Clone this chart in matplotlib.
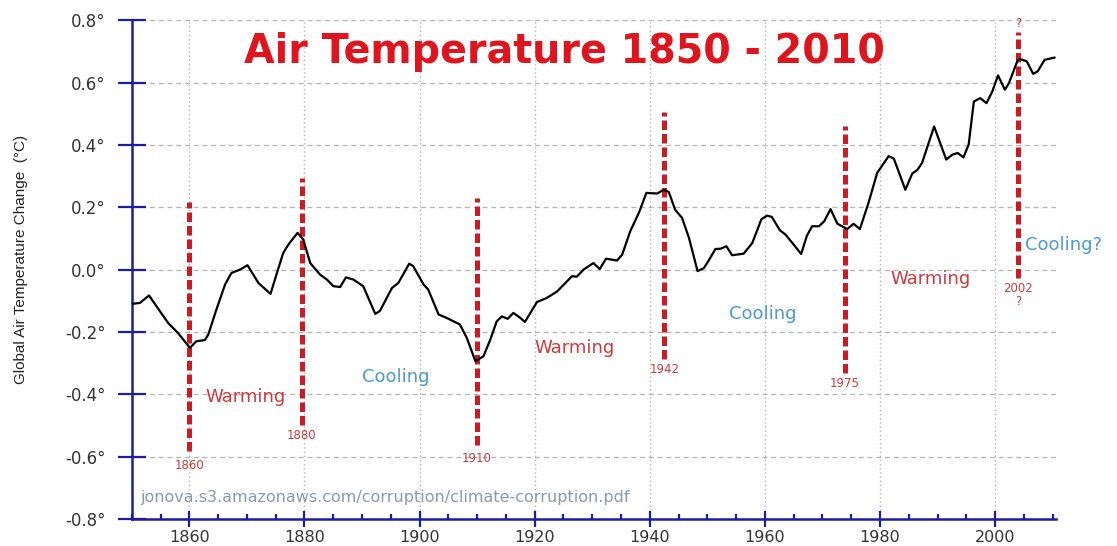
import matplotlib
matplotlib.use("Agg")
import matplotlib.pyplot as plt
from matplotlib.ticker import MultipleLocator, FuncFormatter

# ---- data ----
years = [1850.0, 1851.4, 1853.0, 1854.3, 1856.3, 1858.0, 1860.1, 1861.2, 1862.7, 1863.3,
         1864.7, 1866.2, 1867.3, 1868.8, 1870.1, 1872.0, 1874.1, 1875.4, 1876.3, 1877.2,
         1878.8, 1879.8, 1881.0, 1882.7, 1883.9, 1885.0, 1886.2, 1887.2, 1888.5, 1890.2,
         1892.3, 1893.1, 1895.2, 1896.3, 1898.2, 1898.9, 1900.7, 1901.5, 1903.3, 1904.7,
         1907.0, 1908.2, 1909.7, 1911.1, 1912.3, 1913.4, 1914.3, 1915.3, 1916.3, 1917.5,
         1918.3, 1920.4, 1922.1, 1923.9, 1926.5, 1927.3, 1928.5, 1930.2, 1931.3, 1932.4,
         1934.3, 1935.2, 1936.6, 1938.1, 1939.4, 1941.3, 1942.4, 1943.3, 1944.4, 1945.6,
         1946.8, 1948.3, 1949.4, 1950.2, 1951.4, 1952.3, 1953.3, 1954.3, 1956.3, 1957.8,
         1959.4, 1960.4, 1961.2, 1962.6, 1963.6, 1965.0, 1966.3, 1967.3, 1968.2, 1969.4,
         1970.3, 1971.4, 1972.6, 1974.3, 1975.4, 1976.5, 1978.0, 1979.5, 1981.5, 1982.4,
         1984.4, 1985.6, 1986.5, 1987.3, 1989.4, 1991.5, 1992.6, 1993.5, 1994.5, 1995.4,
         1996.3, 1997.4, 1998.5, 1999.5, 2000.5, 2001.7, 2002.4, 2003.9, 2004.4, 2005.5,
         2006.6, 2007.4, 2008.6, 2010.3]
temps = [-0.110, -0.107, -0.083, -0.118, -0.171, -0.203, -0.251, -0.230, -0.226, -0.208,
         -0.128, -0.048, -0.011, 0.000, 0.014, -0.043, -0.078, 0.000, 0.053, 0.080,
         0.118, 0.096, 0.021, -0.016, -0.032, -0.053, -0.056, -0.025, -0.032, -0.053,
         -0.142, -0.133, -0.059, -0.043, 0.019, 0.011, -0.048, -0.064, -0.144, -0.155,
         -0.176, -0.219, -0.294, -0.278, -0.224, -0.166, -0.150, -0.158, -0.139, -0.155,
         -0.168, -0.104, -0.091, -0.070, -0.021, -0.023, 0.000, 0.021, 0.002, 0.035,
         0.029, 0.048, 0.123, 0.182, 0.246, 0.244, 0.256, 0.249, 0.192, 0.166,
         0.102, -0.005, 0.005, 0.028, 0.066, 0.067, 0.075, 0.046, 0.051, 0.085,
         0.162, 0.173, 0.169, 0.126, 0.112, 0.080, 0.050, 0.109, 0.139, 0.139,
         0.155, 0.194, 0.147, 0.130, 0.147, 0.130, 0.214, 0.310, 0.364, 0.356,
         0.256, 0.308, 0.320, 0.342, 0.459, 0.353, 0.369, 0.374, 0.360, 0.401,
         0.539, 0.550, 0.534, 0.571, 0.623, 0.577, 0.598, 0.671, 0.675, 0.668,
         0.628, 0.636, 0.673, 0.680]

# turning-point markers
marker_years = [1860.0, 1879.5, 1909.9, 1942.5, 1973.9, 2004.0]
marker_tops = [0.218, 0.294, 0.230, 0.507, 0.461, 0.761]
marker_bottoms = [-0.582, -0.500, -0.564, -0.286, -0.333, -0.028]
marker_labels = ["1860", "1880", "1910", "1942", "1975", "2002\n?"]
marker_label_y = [-0.628, -0.532, -0.605, -0.320, -0.365, -0.082]

# phase annotations
phase_labels = ["Warming", "Cooling", "Warming", "Cooling", "Warming", "Cooling?"]
phase_x = [1869.8, 1895.8, 1926.9, 1959.7, 1988.8, 2005.2]
phase_y = [-0.410, -0.346, -0.253, -0.144, -0.030, 0.078]
phase_kind = ["w", "c", "w", "c", "w", "c"]

y_ticks = [-0.8, -0.6, -0.4, -0.2, 0.0, 0.2, 0.4, 0.6, 0.8]
x_ticks = [1860, 1880, 1900, 1920, 1940, 1960, 1980, 2000]

title_text = "Air Temperature 1850 - 2010"
source_text = "jonova.s3.amazonaws.com/corruption/climate-corruption.pdf"
ylabel_text = "Global Air Temperature Change  (\u00b0C)"

# ---- styling ----
BLUE = "#1c1ca8"
RED_LINE = "#cc1c22"
RED_TXT = "#cc3a3e"
BLUE_TXT = "#4a9ccb"

fig = plt.figure(figsize=(11.17, 5.46), dpi=100)
ax = fig.add_axes([0.118, 0.0495, 0.827, 0.9135])

ax.set_xlim(1850, 2010.5)
ax.set_ylim(-0.8, 0.8)

# grid
for yt in y_ticks:
    ax.axhline(yt, color="#b4b4b4", lw=0.9, ls=(0, (4, 3)), zorder=0)
for xt in x_ticks:
    ax.axvline(xt, color="#b4b4b4", lw=1.0, ls=(0, (1, 2)), zorder=0)

# red dashed turning-point lines
ax.vlines(marker_years, marker_bottoms, marker_tops, colors=RED_LINE, lw=3.6,
          linestyles=(0, (1.9, 0.8)), zorder=3)

# main curve
ax.plot(years, temps, color="black", lw=1.6, zorder=4)

# marker labels
for xm, lab, yl in zip(marker_years, marker_labels, marker_label_y):
    ax.text(xm, yl, lab, color=RED_TXT, fontsize=8.5, ha="center", va="center",
            linespacing=1.0, zorder=5)
ax.text(marker_years[-1], 0.79, "?", color=RED_TXT, fontsize=8.5, ha="center",
        va="center", zorder=5)

# phase annotations
for lab, xp, yp, k in zip(phase_labels, phase_x, phase_y, phase_kind):
    ha = "left" if lab.endswith("?") else "center"
    ax.text(xp, yp, lab, color=RED_TXT if k == "w" else BLUE_TXT, fontsize=13,
            ha=ha, va="center", zorder=5)

# title
ax.text(1925.2, 0.663, title_text, color="#e0141c", fontsize=28.5, fontweight="bold",
        ha="center", va="baseline", zorder=6)

# source
ax.text(1851.4, -0.731, source_text, color="#8c9aa6", fontsize=11.5, ha="left",
        va="center", zorder=5)

# axes / spines
for side in ["top", "right"]:
    ax.spines[side].set_visible(False)
for side in ["left", "bottom"]:
    ax.spines[side].set_color(BLUE)
    ax.spines[side].set_linewidth(1.8)

ax.set_yticks(y_ticks)
ax.yaxis.set_major_formatter(FuncFormatter(lambda v, p: f"{v:.1f}\u00b0".replace("-0.0", "0.0")))
ax.set_xticks(x_ticks)
ax.xaxis.set_minor_locator(MultipleLocator(5))

ax.tick_params(axis="y", direction="inout", length=20, width=1.6, color=BLUE,
               labelsize=12, labelcolor="#333333", pad=9)
ax.tick_params(axis="x", which="major", direction="inout", length=11.5, width=1.6,
               color=BLUE, labelsize=11.5, labelcolor="#333333", pad=2.5)
ax.tick_params(axis="x", which="minor", direction="in", length=3.5, width=1.6, color=BLUE)

ax.set_ylabel(ylabel_text, fontsize=11, color="#222222",
              family=["Liberation Sans", "DejaVu Sans"])
ax.yaxis.set_label_coords(-0.112, 0.52)

fig.savefig("out.png", dpi=100)
